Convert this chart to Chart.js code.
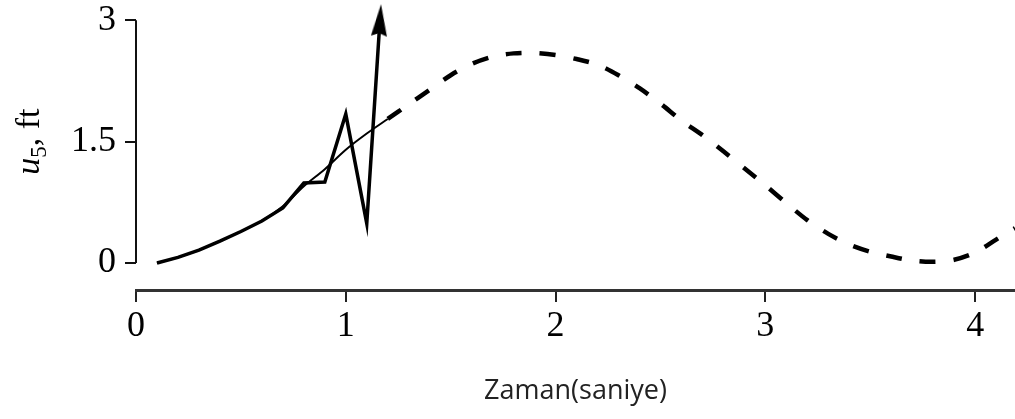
<!DOCTYPE html>
<html>
<head>
<meta charset="utf-8">
<script src="https://cdn.jsdelivr.net/npm/chart.js@4/dist/chart.umd.min.js"></script>
<style>
  html, body { margin: 0; padding: 0; background: #fff; }
  #wrap { width: 1015px; height: 419px; position: relative; }
</style>
</head>
<body>
<div id="wrap"><canvas id="chart"></canvas></div>
<script>
// numerical (unstable) solution, ends in an arrow
const tNum = [0.1, 0.2, 0.3, 0.4, 0.5, 0.6, 0.7, 0.8, 0.9, 1.0, 1.1, 1.163];
const uNum = [0, 0.07, 0.16, 0.27, 0.39, 0.52, 0.68, 0.99, 1.0, 1.84, 0.49, 3.0];

// exact solution (solid at first, dashed from t = 1.2)
const tExact = [0.1, 0.2, 0.3, 0.4, 0.5, 0.6, 0.7, 0.8, 0.9, 1.0, 1.1, 1.2, 1.3, 1.4, 1.5, 1.6, 1.7, 1.8, 1.9, 2.0,
  2.1, 2.2, 2.3, 2.4, 2.5, 2.6, 2.7, 2.8, 2.9, 3.0, 3.1, 3.2, 3.3, 3.4, 3.5, 3.6, 3.7, 3.8, 3.9, 4.0, 4.1, 4.19];
const uExact = [0, 0.07, 0.16, 0.27, 0.39, 0.52, 0.70, 0.95, 1.16, 1.40, 1.60, 1.78, 1.96, 2.14, 2.32, 2.46, 2.55, 2.59, 2.595, 2.57,
  2.52, 2.45, 2.32, 2.16, 1.97, 1.76, 1.58, 1.38, 1.17, 0.96, 0.74, 0.53, 0.36, 0.23, 0.14, 0.08, 0.03, 0.015, 0.04, 0.13, 0.29, 0.43];
const dashFrom = 1.2;

const xTicks = [0, 1, 2, 3, 4];
const yTicks = [0, 1.5, 3];
const xTitle = 'Zaman(saniye)';
const yTitleParts = ['u', '5', ', ft'];

const serif = '"Liberation Serif", "Times New Roman", serif';

// arrow head used as point style at the end of the numerical curve
const arrowHead = document.createElement('canvas');
arrowHead.width = 18;
arrowHead.height = 32;
(function () {
  const c = arrowHead.getContext('2d');
  c.fillStyle = '#000';
  c.beginPath();
  c.moveTo(9, 0);
  c.lineTo(17, 32);
  c.lineTo(9, 29);
  c.lineTo(1, 32);
  c.closePath();
  c.fill();
})();

const axisExtras = {
  id: 'axisExtras',
  afterDraw(chart) {
    const { ctx, scales: { x, y } } = chart;
    ctx.save();
    // detached y axis line, only from first to last tick
    ctx.strokeStyle = '#111';
    ctx.lineWidth = 2;
    ctx.beginPath();
    ctx.moveTo(x.left, y.getPixelForValue(yTicks[0]));
    ctx.lineTo(x.left, y.getPixelForValue(yTicks[yTicks.length - 1]));
    ctx.stroke();

    // y title: italic u, subscript 5, upright ", ft"
    const parts = [
      { t: yTitleParts[0], font: 'italic 34px ' + serif, dy: 0 },
      { t: yTitleParts[1], font: '23px ' + serif, dy: 7 },
      { t: yTitleParts[2], font: '34px ' + serif, dy: 0 }
    ];
    let total = 0;
    parts.forEach(p => { ctx.font = p.font; p.w = ctx.measureText(p.t).width; total += p.w; });
    ctx.translate(39, (y.getPixelForValue(yTicks[0]) + y.getPixelForValue(yTicks[yTicks.length - 1])) / 2);
    ctx.rotate(-Math.PI / 2);
    ctx.fillStyle = '#000';
    ctx.textBaseline = 'alphabetic';
    let pos = -total / 2;
    parts.forEach(p => { ctx.font = p.font; ctx.fillText(p.t, pos, p.dy); pos += p.w; });
    ctx.restore();
  }
};

new Chart(document.getElementById('chart'), {
  type: 'line',
  data: {
    datasets: [
      {
        label: 'exact',
        data: tExact.map((t, i) => ({ x: t, y: uExact[i] })),
        borderColor: '#000',
        borderWidth: 2,
        pointRadius: 0,
        tension: 0.3,
        clip: false,
        segment: {
          borderDash: ctx => ctx.p0.parsed.x >= dashFrom ? [16, 18] : undefined,
          borderWidth: ctx => ctx.p0.parsed.x >= dashFrom ? 4.5 : 2
        }
      },
      {
        label: 'numerical',
        data: tNum.map((t, i) => ({ x: t, y: uNum[i] })),
        borderColor: '#000',
        backgroundColor: '#000',
        borderWidth: 3.5,
        tension: 0,
        clip: false,
        pointStyle: arrowHead,
        pointRotation: 3.7,
        pointRadius: ctx => ctx.dataIndex === tNum.length - 1 ? 10 : 0
      }
    ]
  },
  options: {
    responsive: true,
    maintainAspectRatio: false,
    animation: false,
    layout: { autoPadding: false, padding: { top: 4, right: 0, left: 0, bottom: 0 } },
    plugins: {
      legend: { display: false },
      tooltip: { enabled: false }
    },
    scales: {
      x: {
        type: 'linear',
        min: 0,
        max: 4.19,
        afterBuildTicks: s => { s.ticks = xTicks.map(v => ({ value: v })); },
        afterFit: s => { s.height = 129; s.paddingLeft = 0; s.paddingRight = 0; },
        border: { display: true, color: '#333', width: 3 },
        grid: { display: true, drawOnChartArea: false, drawTicks: true, tickLength: 12, color: '#222', lineWidth: 2 },
        ticks: {
          color: '#000',
          padding: 3,
          maxRotation: 0,
          font: { family: serif, size: 36 },
          callback: v => String(v)
        },
        title: {
          display: true,
          text: xTitle,
          color: '#222',
          font: { family: '"Open Sans", "Segoe UI", sans-serif', size: 27 },
          padding: { top: 0, bottom: 11 }
        }
      },
      y: {
        type: 'linear',
        min: -0.333,
        max: 3.2,
        afterBuildTicks: s => { s.ticks = yTicks.map(v => ({ value: v })); },
        afterFit: s => { s.width = 136; s.paddingTop = 0; s.paddingBottom = 0; },
        border: { display: false },
        grid: { display: true, drawOnChartArea: false, drawTicks: true, tickLength: 11, color: '#111', lineWidth: 2 },
        ticks: {
          color: '#000',
          padding: 9,
          font: { family: serif, size: 36 },
          callback: v => String(v)
        }
      }
    }
  },
  plugins: [axisExtras]
});
</script>
</body>
</html>
